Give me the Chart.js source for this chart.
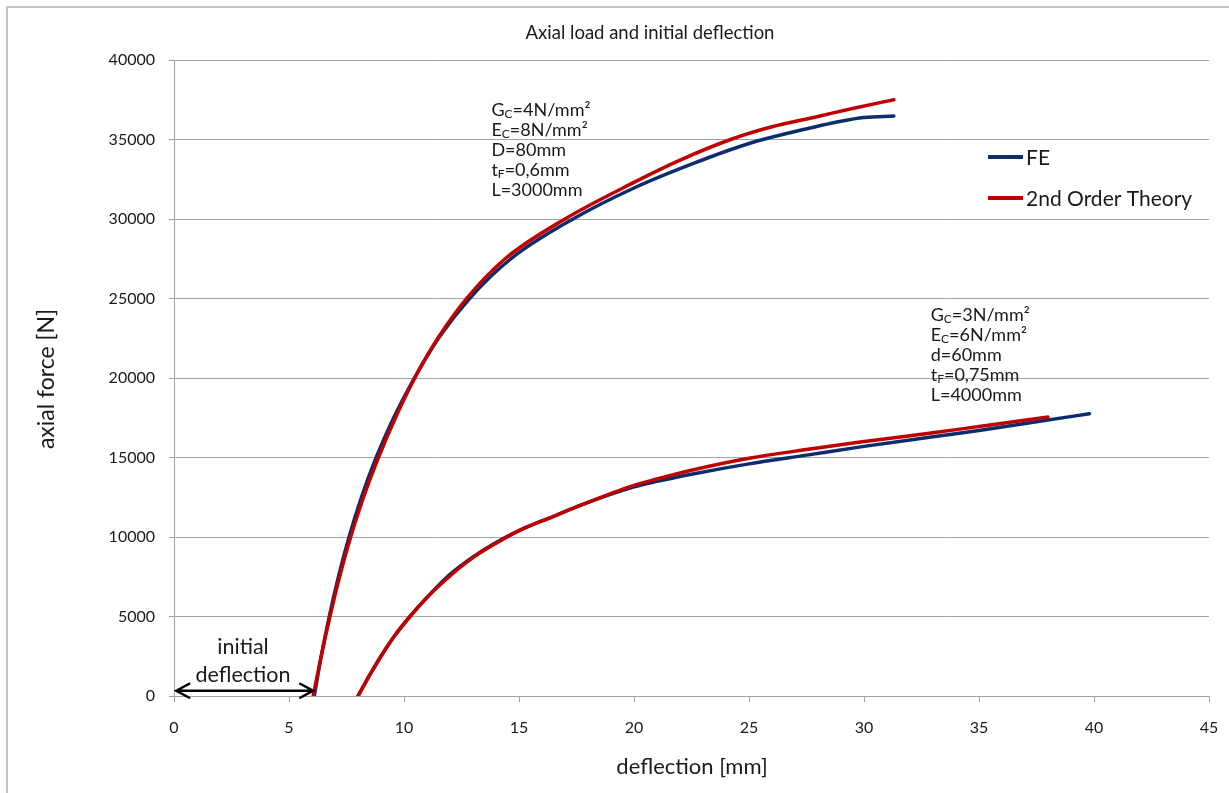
<!DOCTYPE html>
<html><head><meta charset="utf-8">
<script src="https://cdn.jsdelivr.net/npm/chart.js@4.4.1/dist/chart.umd.min.js"></script>
<style>
html,body{margin:0;padding:0;background:#fff;}
#wrap{position:relative;width:1229px;height:793px;overflow:hidden;}
#frame{position:absolute;left:6px;top:6px;width:1260px;height:820px;border-left:2px solid #c4c4c4;border-top:2px solid #c4c4c4;pointer-events:none;}
canvas{position:absolute;left:0;top:0;}
</style></head><body>
<div id="wrap"><canvas id="c" width="1229" height="793"></canvas><div id="frame"></div></div>
<script>
const chartTitle = "Axial load and initial deflection";
const xAxisTitle = "deflection [mm]";
const yAxisTitle = "axial force [N]";
const seriesNames = ["FE", "2nd Order Theory"];
const xTickValues = [0, 5, 10, 15, 20, 25, 30, 35, 40, 45];
const yTickValues = [0, 5000, 10000, 15000, 20000, 25000, 30000, 35000, 40000];

// Case 1 (Gc=4, L=3000)
const fe1X = [6.1, 6.4, 6.75, 7.15, 7.61, 8.15, 8.79, 9.55, 10.45, 11.5, 12.85, 14.65, 17.35, 20.0, 22.5, 25.0, 27.0, 29.0, 30.0, 31.3];
const fe1Y = [0, 2500, 5000, 7500, 10000, 12500, 15000, 17500, 20000, 22500, 25000, 27500, 30000, 31950, 33450, 34750, 35500, 36150, 36380, 36480];
const th1X = [6.05, 6.4, 6.78, 7.2, 7.68, 8.24, 8.89, 9.63, 10.47, 11.47, 12.72, 14.4, 17.0, 20.0, 22.0, 24.2, 26.0, 28.0, 29.5, 31.3];
const th1Y = [0, 2500, 5000, 7500, 10000, 12500, 15000, 17500, 20000, 22500, 25000, 27500, 30000, 32300, 33700, 35000, 35800, 36450, 36950, 37500];

// Case 2 (Gc=3, L=4000)
const fe2X = [8.0, 8.5, 9.0, 9.6, 10.26, 11.0, 12.0, 13.0, 14.0, 15.0, 16.5, 17.5, 20.0, 21.0, 22.5, 25.0, 27.5, 30.0, 33.0, 35.0, 37.5, 39.8];
const fe2Y = [0, 1300, 2500, 3800, 5000, 6200, 7650, 8750, 9650, 10400, 11300, 11900, 13150, 13500, 13950, 14600, 15150, 15700, 16300, 16700, 17250, 17750];
const th2X = [8.0, 8.5, 9.0, 9.6, 10.26, 11.0, 12.0, 13.0, 14.0, 15.0, 16.5, 17.5, 20.0, 21.0, 22.5, 25.0, 27.5, 30.0, 33.0, 35.0, 38.0];
const th2Y = [0, 1300, 2500, 3800, 5000, 6200, 7550, 8700, 9600, 10400, 11300, 11900, 13250, 13650, 14200, 14950, 15500, 16000, 16550, 16950, 17550];

// Annotations (anchor in data coordinates)
const note1Lines = ["G_C=4N/mm²", "E_C=8N/mm²", "D=80mm", "t_F=0,6mm", "L=3000mm"];
const note1Anchor = [13.8, 36850];
const note2Lines = ["G_C=3N/mm²", "E_C=6N/mm²", "d=60mm", "t_F=0,75mm", "L=4000mm"];
const note2Anchor = [32.9, 23960];
const initLines = ["initial", "deflection"];
const initAnchor = [3.0, 3100];
const arrowX = [0.1, 6.05];
const arrowY = 330;

const BLUE = "#0c2d6b";
const RED = "#c00000";
const GRID = "#a3a3a3";
const FONT = "Lato, 'Open Sans', sans-serif";

function pts(xs, ys) { return xs.map((x, i) => ({ x: x, y: ys[i] })); }

function drawRich(ctx, x, y, str, size) {
  let cx = x;
  let i = 0;
  while (i < str.length) {
    if (str[i] === "_" && i + 1 < str.length) {
      ctx.font = Math.round(size * 0.68) + "px " + FONT;
      ctx.fillText(str[i + 1], cx, y + size * 0.25);
      cx += ctx.measureText(str[i + 1]).width;
      i += 2;
    } else {
      let j = i;
      while (j < str.length && str[j] !== "_") j++;
      const seg = str.slice(i, j);
      ctx.font = size + "px " + FONT;
      ctx.fillText(seg, cx, y);
      cx += ctx.measureText(seg).width;
      i = j;
    }
  }
}

const overlay = {
  id: "overlay",
  afterDraw(chart) {
    const ctx = chart.ctx;
    const xs = chart.scales.x, ys = chart.scales.y;
    ctx.save();
    ctx.fillStyle = "#1a1a1a";
    ctx.textBaseline = "middle";
    // title
    ctx.textAlign = "center";
    ctx.font = "18.5px " + FONT;
    ctx.fillText(chartTitle, 650, 33);
    // axis titles
    ctx.font = "22px " + FONT;
    ctx.fillText(xAxisTitle, 692, 767);
    ctx.save();
    ctx.translate(47, 379);
    ctx.rotate(-Math.PI / 2);
    ctx.font = "23px " + FONT;
    ctx.fillText(yAxisTitle, 0, 0);
    ctx.restore();
    // notes
    ctx.textAlign = "left";
    const notes = [[note1Lines, note1Anchor], [note2Lines, note2Anchor]];
    notes.forEach(([lines, a]) => {
      const px = xs.getPixelForValue(a[0]);
      const py = ys.getPixelForValue(a[1]);
      lines.forEach((ln, k) => drawRich(ctx, px, py + k * 20, ln, 18));
    });
    // initial deflection
    ctx.textAlign = "center";
    ctx.font = "21.5px " + FONT;
    const ix = xs.getPixelForValue(initAnchor[0]);
    const iy = ys.getPixelForValue(initAnchor[1]);
    initLines.forEach((ln, k) => ctx.fillText(ln, ix, iy + k * 28));
    // arrow
    const ax0 = xs.getPixelForValue(arrowX[0]);
    const ax1 = xs.getPixelForValue(arrowX[1]);
    const ay = ys.getPixelForValue(arrowY);
    ctx.strokeStyle = "#000";
    ctx.lineWidth = 2.5;
    ctx.lineCap = "round";
    ctx.beginPath();
    ctx.moveTo(ax0, ay); ctx.lineTo(ax1, ay);
    ctx.moveTo(ax0 + 13, ay - 7); ctx.lineTo(ax0, ay); ctx.lineTo(ax0 + 13, ay + 7);
    ctx.moveTo(ax1 - 13, ay - 7); ctx.lineTo(ax1, ay); ctx.lineTo(ax1 - 13, ay + 7);
    ctx.stroke();
    // legend
    const leg = [[seriesNames[0], BLUE, 157], [seriesNames[1], RED, 198]];
    ctx.textAlign = "left";
    ctx.font = "21px " + FONT;
    leg.forEach(([t, c, y]) => {
      ctx.strokeStyle = c;
      ctx.lineWidth = 4;
      ctx.lineCap = "butt";
      ctx.beginPath(); ctx.moveTo(988, y); ctx.lineTo(1023, y); ctx.stroke();
      ctx.fillStyle = "#1a1a1a";
      ctx.fillText(t, 1026, y + 1);
    });
    ctx.restore();
  }
};

const common = { showLine: true, pointRadius: 0, borderWidth: 3.5, fill: false, cubicInterpolationMode: "monotone", borderCapStyle: "round" };

new Chart(document.getElementById("c"), {
  type: "scatter",
  data: {
    datasets: [
      Object.assign({ label: seriesNames[1], data: pts(th1X, th1Y), borderColor: RED, backgroundColor: RED }, common),
      Object.assign({ label: seriesNames[1], data: pts(th2X, th2Y), borderColor: RED, backgroundColor: RED }, common),
      Object.assign({ label: seriesNames[0], data: pts(fe1X, fe1Y), borderColor: BLUE, backgroundColor: BLUE }, common),
      Object.assign({ label: seriesNames[0], data: pts(fe2X, fe2Y), borderColor: BLUE, backgroundColor: BLUE }, common)
    ]
  },
  options: {
    responsive: false,
    animation: false,
    devicePixelRatio: 1,
    layout: { padding: { top: 60, right: 20, left: 0, bottom: 0 } },
    plugins: { legend: { display: false }, title: { display: false }, tooltip: { enabled: false } },
    scales: {
      x: {
        type: "linear", min: 0, max: 45,
        afterBuildTicks: s => { s.ticks = xTickValues.map(v => ({ value: v })); },
        ticks: { color: "#1a1a1a", font: { family: FONT, size: 16 }, padding: 16, maxRotation: 0, callback: v => String(v) },
        grid: { drawOnChartArea: false, drawTicks: true, tickLength: 6, color: GRID },
        border: { color: GRID, width: 1 },
        afterFit: s => { s.height = 97; s.paddingRight = 0; s.paddingLeft = 0; }
      },
      y: {
        type: "linear", min: 0, max: 40000,
        afterBuildTicks: s => { s.ticks = yTickValues.map(v => ({ value: v })); },
        ticks: { color: "#1a1a1a", font: { family: FONT, size: 16 }, padding: 14, callback: v => String(v) },
        grid: { drawOnChartArea: true, drawTicks: true, tickLength: 5, color: GRID },
        border: { color: GRID, width: 1 },
        afterFit: s => { s.width = 174; s.paddingTop = 0; s.paddingBottom = 0; }
      }
    }
  },
  plugins: [overlay]
});
</script>
</body></html>
